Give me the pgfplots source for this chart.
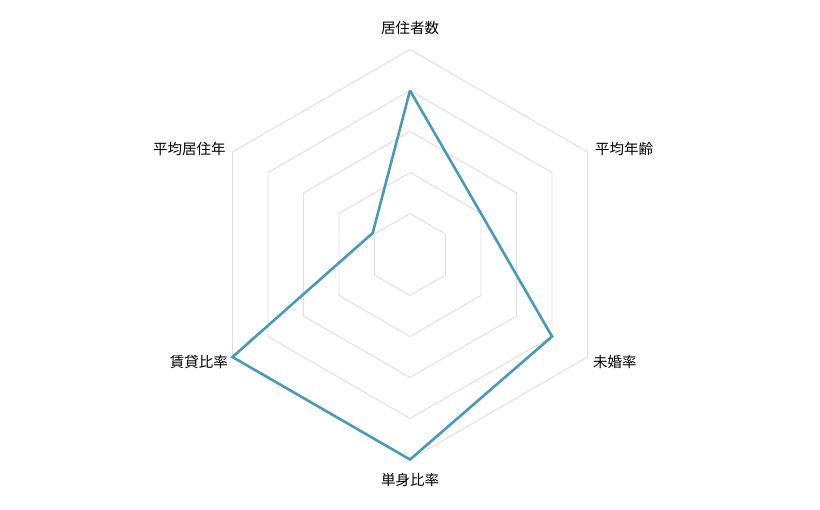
\documentclass[border=0pt]{standalone}
\usepackage{pgfplots}
\pgfplotsset{compat=1.18}
\usepgfplotslibrary{polar}
\usepackage{fontspec}
\setmainfont{Noto Sans CJK JP}
\newfontfamily\cjk{Noto Sans CJK JP}
\definecolor{linecol}{HTML}{4A9AB4}
\definecolor{gridcol}{HTML}{DEDEDE}
\tikzset{lab/.style={font={\cjk\fontsize{14.5bp}{17bp}\selectfont}, text=black, inner sep=0pt}}
\begin{document}
\begin{tikzpicture}
\useasboundingbox (0,0) rectangle (820bp,510bp);
\begin{polaraxis}[
    at={(410bp,255.5bp)}, anchor=origin,
    scale only axis=true,
    width=410bp, height=410bp,
    ymin=0, ymax=1,
    hide axis,
    clip=false,
  ]
  % grid rings
  \foreach \r in {0.2,0.4,0.6,0.8,1.0} {
    \edef\temp{\noexpand\addplot[gridcol, line width=0.9bp, line join=miter, forget plot]
      coordinates {(90,\r) (30,\r) (-30,\r) (-90,\r) (210,\r) (150,\r) (90,\r)};}
    \temp
  }
  % data
  \addplot[linecol, line width=2.6bp, line join=miter] coordinates {
    (90,0.80) (30,0.40) (-30,0.80) (-90,1.00) (210,1.00) (150,0.21) (90,0.80)
  };
  \node[lab, anchor=center] at (axis cs:90,1.105) {居住者数};
  \node[lab, anchor=west] at (axis cs:29.7,1.039) {平均年齢};
  \node[lab, anchor=west] at (axis cs:-30.4,1.035) {未婚率};
  \node[lab, anchor=center] at (axis cs:-90,1.10) {単身比率};
  \node[lab, anchor=east] at (axis cs:210.6,1.031) {賃貸比率};
  \node[lab, anchor=east] at (axis cs:150.1,1.037) {平均居住年};
\end{polaraxis}
\end{tikzpicture}
\end{document}
